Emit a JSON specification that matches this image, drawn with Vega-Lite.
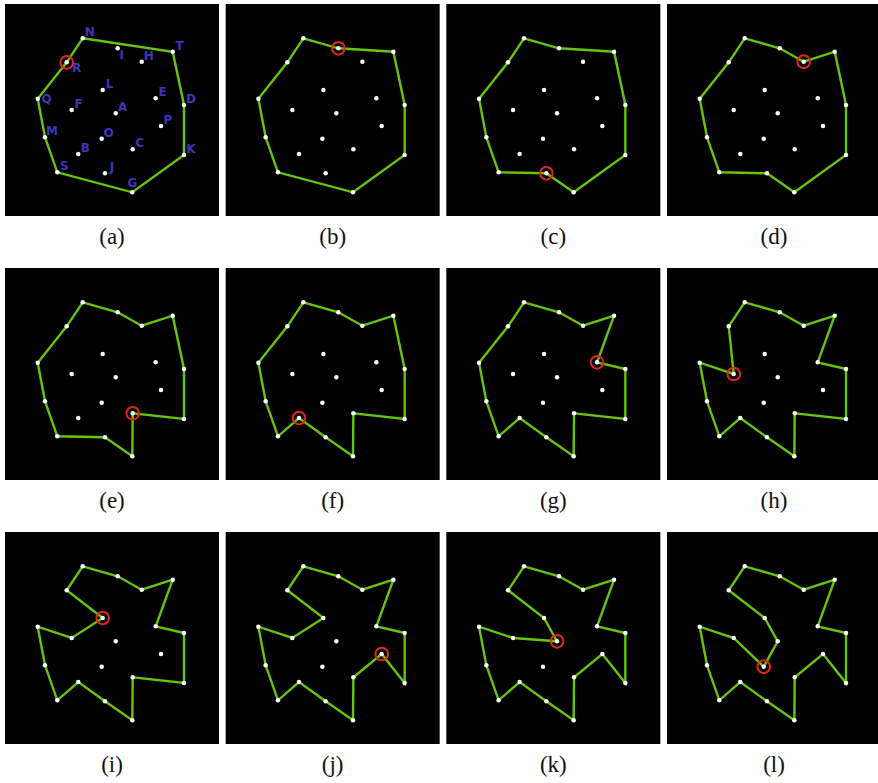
{
  "$schema": "https://vega.github.io/schema/vega-lite/v6.json",
  "background": "white",
  "padding": {"left": 5, "top": 4, "right": 0, "bottom": 0},
  "datasets": {
    "added": [
      {"panel": "a", "hl": "R"}, {"panel": "b", "hl": "I"}, {"panel": "c", "hl": "J"},
      {"panel": "d", "hl": "H"}, {"panel": "e", "hl": "C"}, {"panel": "f", "hl": "B"},
      {"panel": "g", "hl": "E"}, {"panel": "h", "hl": "F"}, {"panel": "i", "hl": "L"},
      {"panel": "j", "hl": "P"}, {"panel": "k", "hl": "A"}, {"panel": "l", "hl": "O"}
    ]
  },
  "data": {
    "values": [
      {"letter": "A", "x": 110.7, "y": 109.3, "k": 16, "l": 17},
      {"letter": "B", "x": 73.3, "y": 150.0, "f": 9, "g": 10, "h": 10, "i": 10, "j": 11, "k": 11, "l": 11},
      {"letter": "C", "x": 127.7, "y": 145.3, "e": 6, "f": 6, "g": 7, "h": 7, "i": 7, "j": 8, "k": 8, "l": 8},
      {"letter": "D", "x": 179.0, "y": 101.0, "a": 2, "b": 3, "c": 3, "d": 4, "e": 4, "f": 4, "g": 5, "h": 5, "i": 5, "j": 5, "k": 5, "l": 5},
      {"letter": "E", "x": 150.7, "y": 94.3, "g": 4, "h": 4, "i": 4, "j": 4, "k": 4, "l": 4},
      {"letter": "F", "x": 66.7, "y": 106.0, "h": 14, "i": 14, "j": 15, "k": 15, "l": 15},
      {"letter": "G", "x": 127.3, "y": 188.3, "a": 4, "b": 5, "c": 5, "d": 6, "e": 7, "f": 7, "g": 8, "h": 8, "i": 8, "j": 9, "k": 9, "l": 9},
      {"letter": "H", "x": 136.7, "y": 57.7, "d": 2, "e": 2, "f": 2, "g": 2, "h": 2, "i": 2, "j": 2, "k": 2, "l": 2},
      {"letter": "I", "x": 112.7, "y": 44.3, "b": 1, "c": 1, "d": 1, "e": 1, "f": 1, "g": 1, "h": 1, "i": 1, "j": 1, "k": 1, "l": 1},
      {"letter": "J", "x": 100.0, "y": 169.3, "c": 6, "d": 7, "e": 8, "f": 8, "g": 9, "h": 9, "i": 9, "j": 10, "k": 10, "l": 10},
      {"letter": "K", "x": 179.0, "y": 151.0, "a": 3, "b": 4, "c": 4, "d": 5, "e": 5, "f": 5, "g": 6, "h": 6, "i": 6, "j": 6, "k": 6, "l": 6},
      {"letter": "L", "x": 97.7, "y": 86.0, "i": 15, "j": 16, "k": 17, "l": 18},
      {"letter": "M", "x": 40.0, "y": 133.3, "a": 6, "b": 7, "c": 8, "d": 9, "e": 10, "f": 11, "g": 12, "h": 12, "i": 12, "j": 13, "k": 13, "l": 13},
      {"letter": "N", "x": 77.7, "y": 34.3, "a": 0, "b": 0, "c": 0, "d": 0, "e": 0, "f": 0, "g": 0, "h": 0, "i": 0, "j": 0, "k": 0, "l": 0},
      {"letter": "O", "x": 96.7, "y": 134.7, "l": 16},
      {"letter": "P", "x": 156.0, "y": 122.0, "j": 7, "k": 7, "l": 7},
      {"letter": "Q", "x": 32.7, "y": 94.7, "a": 7, "b": 8, "c": 9, "d": 10, "e": 11, "f": 12, "g": 13, "h": 13, "i": 13, "j": 14, "k": 14, "l": 14},
      {"letter": "R", "x": 61.7, "y": 58.3, "a": 8, "b": 9, "c": 10, "d": 11, "e": 12, "f": 13, "g": 14, "h": 15, "i": 16, "j": 17, "k": 18, "l": 19},
      {"letter": "S", "x": 52.3, "y": 168.3, "a": 5, "b": 6, "c": 7, "d": 8, "e": 9, "f": 10, "g": 11, "h": 11, "i": 11, "j": 12, "k": 12, "l": 12},
      {"letter": "T", "x": 167.7, "y": 47.7, "a": 1, "b": 2, "c": 2, "d": 3, "e": 3, "f": 3, "g": 3, "h": 3, "i": 3, "j": 3, "k": 3, "l": 3}
    ]
  },
  "transform": [
    {"fold": ["a", "b", "c", "d", "e", "f", "g", "h", "i", "j", "k", "l"], "as": ["panel", "seq"]},
    {"lookup": "panel", "from": {"data": {"name": "added"}, "key": "panel", "fields": ["hl"]}}
  ],
  "facet": {
    "field": "panel",
    "type": "nominal",
    "title": null,
    "header": {
      "labelOrient": "bottom",
      "labelExpr": "'(' + datum.value + ')'",
      "labelFont": "Liberation Serif",
      "labelFontSize": 23,
      "labelColor": "#111111",
      "labelPadding": 10
    }
  },
  "columns": 4,
  "spacing": {"column": 6.67, "row": 19},
  "spec": {
    "width": 214,
    "height": 212,
    "encoding": {
      "x": {"field": "x", "type": "quantitative", "axis": null, "scale": {"domain": [0, 214], "nice": false, "zero": false}},
      "y": {"field": "y", "type": "quantitative", "axis": null, "scale": {"domain": [0, 212], "nice": false, "zero": false, "reverse": true}}
    },
    "layer": [
      {
        "transform": [{"filter": "isValid(datum.seq)"}],
        "mark": {"type": "line", "interpolate": "linear-closed", "color": "#66c40c", "strokeWidth": 2.4},
        "encoding": {"order": {"field": "seq", "type": "quantitative"}}
      },
      {
        "mark": {"type": "point", "shape": "circle", "filled": true, "color": "white", "opacity": 1, "size": 20}
      },
      {
        "transform": [{"filter": "datum.letter === datum.hl"}],
        "mark": {"type": "point", "shape": "circle", "filled": false, "color": "#e0261c", "opacity": 1, "size": 160, "strokeWidth": 2}
      },
      {
        "transform": [{"filter": "datum.panel === 'a' && indexof(['R','I','Q','G'], datum.letter) < 0"}],
        "mark": {"type": "text", "font": "DejaVu Sans", "fontWeight": "bold", "fontSize": 12, "color": "#3e36b4", "align": "center", "baseline": "middle", "dx": 7, "dy": -6},
        "encoding": {"text": {"field": "letter"}}
      },
      {
        "transform": [{"filter": "datum.panel === 'a' && datum.letter === 'R'"}],
        "mark": {"type": "text", "font": "DejaVu Sans", "fontWeight": "bold", "fontSize": 12, "color": "#3e36b4", "align": "center", "baseline": "middle", "dx": 10, "dy": 6},
        "encoding": {"text": {"field": "letter"}}
      },
      {
        "transform": [{"filter": "datum.panel === 'a' && datum.letter === 'I'"}],
        "mark": {"type": "text", "font": "DejaVu Sans", "fontWeight": "bold", "fontSize": 12, "color": "#3e36b4", "align": "center", "baseline": "middle", "dx": 4, "dy": 7},
        "encoding": {"text": {"field": "letter"}}
      },
      {
        "transform": [{"filter": "datum.panel === 'a' && datum.letter === 'Q'"}],
        "mark": {"type": "text", "font": "DejaVu Sans", "fontWeight": "bold", "fontSize": 12, "color": "#3e36b4", "align": "center", "baseline": "middle", "dx": 9, "dy": 0},
        "encoding": {"text": {"field": "letter"}}
      },
      {
        "transform": [{"filter": "datum.panel === 'a' && datum.letter === 'G'"}],
        "mark": {"type": "text", "font": "DejaVu Sans", "fontWeight": "bold", "fontSize": 12, "color": "#3e36b4", "align": "center", "baseline": "middle", "dx": 0, "dy": -9},
        "encoding": {"text": {"field": "letter"}}
      }
    ]
  },
  "config": {
    "view": {"fill": "black", "stroke": null}
  }
}
